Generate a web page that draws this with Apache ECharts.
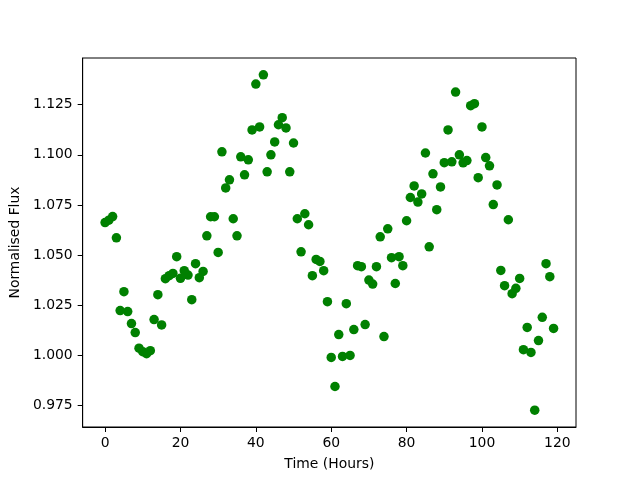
<!DOCTYPE html>
<html>
<head>
<meta charset="utf-8">
<script src="https://cdn.jsdelivr.net/npm/echarts@6/dist/echarts.min.js"></script>
<style>
  html, body { margin: 0; padding: 0; background: #fff; }
  #main { width: 640px; height: 480px; }
</style>
</head>
<body>
<div id="main"></div>
<script>
// time of each reading, hours
var hours = [
  0, 1, 2, 3, 4, 5, 6, 7, 8, 9, 10, 11, 12, 13, 14, 15, 16, 17, 18, 19,
  20, 21, 22, 23, 24, 25, 26, 27, 28, 29, 30, 31, 32, 33, 34, 35, 36, 37, 38, 39,
  40, 41, 42, 43, 44, 45, 46, 47, 48, 49, 50, 51, 52, 53, 54, 55, 56, 57, 58, 59,
  60, 61, 62, 63, 64, 65, 66, 67, 68, 69, 70, 71, 72, 73, 74, 75, 76, 77, 78, 79,
  80, 81, 82, 83, 84, 85, 86, 87, 88, 89, 90, 91, 92, 93, 94, 95, 96, 97, 98, 99,
  100, 101, 102, 103, 104, 105, 106, 107, 108, 109, 110, 111, 112, 113, 114, 115, 116, 117, 118, 119
];
// normalised flux
var flux = [
  1.0662, 1.0674, 1.0692, 1.0586, 1.0223, 1.0317, 1.0218, 1.0158, 1.0113, 1.0035,
  1.0018, 1.0008, 1.0023, 1.0178, 1.0302, 1.0151, 1.0382, 1.0397, 1.0408, 1.0492,
  1.0384, 1.0422, 1.0400, 1.0277, 1.0457, 1.0387, 1.0418, 1.0596, 1.0691, 1.0691,
  1.0513, 1.1015, 1.0835, 1.0875, 1.0681, 1.0596, 1.0990, 1.0900, 1.0975, 1.1124,
  1.1353, 1.1139, 1.1399, 1.0915, 1.1000, 1.1064, 1.1150, 1.1185, 1.1134, 1.0915,
  1.1059, 1.0681, 1.0516, 1.0706, 1.0651, 1.0397, 1.0478, 1.0468, 1.0422, 1.0267,
  0.9989, 0.9844, 1.0103, 0.9994, 1.0257, 0.9999, 1.0128, 1.0447, 1.0442, 1.0153,
  1.0375, 1.0355, 1.0442, 1.0591, 1.0093, 1.0631, 1.0487, 1.0358, 1.0492, 1.0447,
  1.0671, 1.0787, 1.0845, 1.0764, 1.0805, 1.1009, 1.0541, 1.0905, 1.0726, 1.0840,
  1.0961, 1.1124, 1.0965, 1.1313, 1.1000, 1.0960, 1.0971, 1.1245, 1.1255, 1.0886,
  1.1139, 1.0986, 1.0945, 1.0752, 1.0850, 1.0423, 1.0347, 1.0676, 1.0307, 1.0334,
  1.0383, 1.0028, 1.0139, 1.0014, 0.9726, 1.0073, 1.0189, 1.0457, 1.0392, 1.0134
];
var xTicks = [0, 20, 40, 60, 80, 100, 120];
var yTicks = [0.975, 1.000, 1.025, 1.050, 1.075, 1.100, 1.125];

var points = hours.map(function (h, i) { return [h, flux[i]]; });

var chart = echarts.init(document.getElementById('main'), null, { renderer: 'canvas' });

var font = 'DejaVu Sans';

var option = {
  animation: false,
  backgroundColor: '#ffffff',
  textStyle: { fontFamily: font, color: '#000' },
  grid: {
    left: 80, right: 64, top: 58, bottom: 53,
    containLabel: false,
    show: true,
    borderColor: '#000',
    borderWidth: 1,
    backgroundColor: 'transparent'
  },
  xAxis: {
    type: 'value',
    min: -5.95,
    max: 124.95,
    name: 'Time (Hours)',
    nameLocation: 'middle',
    nameGap: 30,
    nameTextStyle: { fontFamily: font, fontSize: 13.9, color: '#000' },
    axisLine: { show: true, onZero: false, lineStyle: { color: '#000', width: 1 } },
    axisTick: { show: true, inside: false, length: 5, customValues: xTicks, lineStyle: { color: '#000' } },
    axisLabel: {
      customValues: xTicks,
      margin: 9,
      fontFamily: font, fontSize: 13.9, color: '#000',
      formatter: function (v) { return String(Math.round(v)); }
    },
    splitLine: { show: false }
  },
  yAxis: {
    type: 'value',
    min: 0.9642,
    max: 1.1483,
    name: 'Normalised Flux',
    nameLocation: 'middle',
    nameGap: 51,
    nameTextStyle: { fontFamily: font, fontSize: 13.9, color: '#000' },
    axisLine: { show: true, onZero: false, lineStyle: { color: '#000', width: 1 } },
    axisTick: { show: true, inside: false, length: 5, customValues: yTicks, lineStyle: { color: '#000' } },
    axisLabel: {
      customValues: yTicks,
      margin: 10,
      fontFamily: font, fontSize: 13.9, color: '#000',
      formatter: function (v) { return v.toFixed(3); }
    },
    splitLine: { show: false }
  },
  series: [
    {
      type: 'scatter',
      data: points,
      symbol: 'circle',
      symbolSize: 9.5,
      itemStyle: { color: '#008000', opacity: 1 },
      emphasis: { disabled: true }
    }
  ]
};

chart.setOption(option);
</script>
</body>
</html>
